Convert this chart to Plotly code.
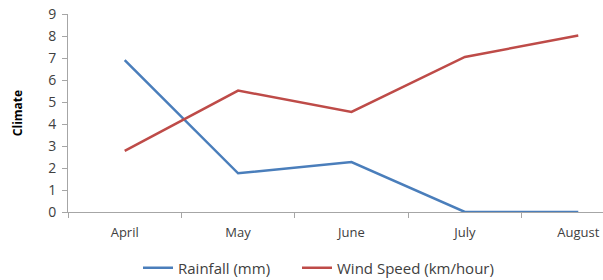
import plotly.graph_objects as go

months = ["April", "May", "June", "July", "August"]
rainfall = [6.9, 1.76, 2.27, 0, 0]
wind_speed = [2.78, 5.52, 4.55, 7.05, 8.02]

fig = go.Figure()
fig.add_trace(go.Scatter(x=months, y=rainfall, mode="lines", name="Rainfall (mm)",
                         line=dict(color="#4A7EBB", width=2.5), legend="legend"))
fig.add_trace(go.Scatter(x=months, y=wind_speed, mode="lines", name="Wind Speed (km/hour)",
                         line=dict(color="#BE4B48", width=2.5), legend="legend2"))

W, H = 603, 280
font = "Open Sans, Liberation Sans, sans-serif"
legend_common = dict(orientation="h", xref="container", yref="container",
                     xanchor="left", y=12/H, yanchor="middle",
                     font=dict(size=15, color="#404040"))
fig.update_layout(
    width=W, height=H,
    margin=dict(l=68, r=0, t=14, b=68),
    paper_bgcolor="white", plot_bgcolor="white",
    font=dict(family=font, size=12, color="#404040"),
    showlegend=True,
    legend=dict(x=138/W, **legend_common),
    legend2=dict(x=297/W, **legend_common),
    xaxis=dict(type="category", range=[-0.5, 4.5 - 32/113.5], showline=True,
               linecolor="#A6A6A6", linewidth=1, ticks="outside", tickson="boundaries",
               ticklen=5, tickcolor="#A6A6A6", showgrid=False, zeroline=False,
               automargin=False, ticklabelstandoff=8,
               tickfont=dict(size=13, color="#404040")),
    yaxis=dict(range=[0, 9], dtick=1, showline=True, linecolor="#A6A6A6", linewidth=1,
               ticks="outside", ticklen=5, tickcolor="#A6A6A6", showgrid=False,
               zeroline=False, automargin=False, ticklabelstandoff=3,
               tickfont=dict(size=14, color="#404040"),
               title=dict(text="<b>Climate</b>", font=dict(size=12, color="#000000"), standoff=22)),
)
# remove the default page margin so the figure fills the window exactly
fig.write_html("out.html", config={"displayModeBar": False},
               post_script="document.body.style.margin='0';")
